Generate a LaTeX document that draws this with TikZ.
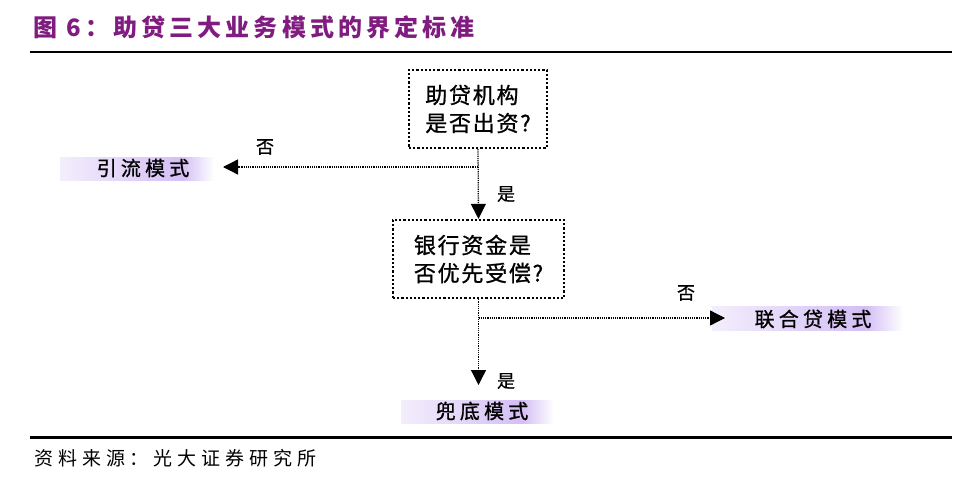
\documentclass[tikz,border=0pt]{standalone}
\usepackage{fontspec}
\setmainfont{Liberation Serif}
\newfontfamily\cjktitle[LetterSpace=17]{Noto Sans CJK SC}
\newfontfamily\cjkbox[LetterSpace=8,FakeBold=1]{Noto Sans CJK SC}
\newfontfamily\cjkband[LetterSpace=21,FakeBold=1]{Noto Sans CJK SC}
\newfontfamily\cjklab[FakeBold=0.6]{Noto Sans CJK SC}
\newfontfamily\cjksrc[LetterSpace=26]{Noto Sans CJK SC}
\usetikzlibrary{arrows.meta,calc}
\definecolor{titlepurple}{RGB}{128,28,128}
\definecolor{bandL}{RGB}{243,238,252}
\definecolor{bandP}{RGB}{212,190,245}
\begin{document}
\begin{tikzpicture}[x=1pt,y=-1pt,
  qbox/.style={draw, line width=2.2pt, dash pattern=on 2.2pt off 2pt,
    minimum height=78pt, inner sep=0pt, align=left,
    font=\cjkbox\fontsize{22pt}{28pt}\selectfont},
  conn/.style={line width=1.3pt, dash pattern=on 1.2pt off 1pt,
    -{Triangle[length=15pt,width=15pt]}},
  bandtext/.style={inner sep=0pt, font=\cjkband\fontsize{20pt}{24pt}\selectfont},
  lab/.style={inner sep=0pt, font=\cjklab\fontsize{18pt}{22pt}\selectfont},
  rulel/.style={line width=2.2pt}
]
\useasboundingbox (0,0) rectangle (974,484);

% title
\node[anchor=west, inner sep=0pt, text=titlepurple,
  font=\cjktitle\bfseries\fontsize{24pt}{28pt}\selectfont] (title) at (33,27) {图 6：助贷三大业务模式的界定标准};
\coordinate (r1a) at (30,52);
\coordinate (r1b) at (952,52);
\draw[rulel] (r1a) -- (r1b);

% bands
\shade[left color=bandL, right color=bandP] (60,157) rectangle (182,180);
\shade[left color=bandP, right color=white] (182,157) rectangle (214,180);
\shade[left color=bandL, right color=bandP] (712,306) rectangle (866,330);
\shade[left color=bandP, right color=white] (866,306) rectangle (903,330);
\shade[left color=bandL, right color=bandP] (401,400) rectangle (522,423);
\shade[left color=bandP, right color=white] (522,400) rectangle (554,423);

% boxes
\node[qbox, minimum width=138pt] (box1) at (478,109) {助贷机构\\是否出资?};
\node[qbox, minimum width=171pt] (box2) at (478.5,259) {银行资金是\\否优先受偿?};

% result texts
\node[bandtext] (yl) at (143,168) {引流模式};
\node[bandtext] (lh) at (813,319) {联合贷模式};
\node[bandtext] (dd) at (482,411) {兜底模式};

% branch coordinates
\coordinate (b1) at (478,167);
\coordinate (tipL) at (223,167);
\coordinate (b2) at (478.5,318);
\coordinate (tipR) at (725,318);
\coordinate (tipD) at (478.5,385);

% connectors
\draw[conn] (box1.south) -- (box2.north);
\draw[conn] (b1) -- (tipL);
\draw[conn] (box2.south) -- (tipD);
\draw[conn] (b2) -- (tipR);

% labels
\node[lab] (no1) at (265,147) {否};
\node[lab] (yes1) at (506,194) {是};
\node[lab] (no2) at (686,293) {否};
\node[lab] (yes2) at (506,381) {是};

% bottom rule and source
\coordinate (r2a) at (30,437.5);
\coordinate (r2b) at (952,437.5);
\draw[rulel] (r2a) -- (r2b);
\node[anchor=west, inner sep=0pt, font=\cjksrc\fontsize{19pt}{22pt}\selectfont] (src) at (34,458) {资料来源：光大证券研究所};
\end{tikzpicture}
\end{document}
